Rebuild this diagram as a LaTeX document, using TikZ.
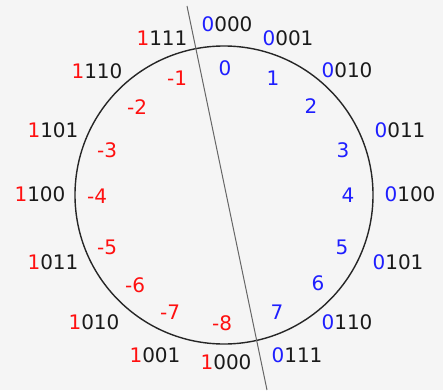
\documentclass[tikz,border=0pt]{standalone}
\usepackage{fontspec}
\setmainfont{DejaVu Sans}
\definecolor{bg}{HTML}{F5F5F5}
\definecolor{rd}{HTML}{FF1010}
\definecolor{bl}{HTML}{1E1EFF}
\definecolor{tx}{HTML}{1A1A1A}
\begin{document}
\begin{tikzpicture}[x=1pt,y=-1pt,
  lab/.style={inner sep=0pt,font=\fontsize{20}{21}\selectfont,text=tx},
  neglab/.style={inner sep=0pt,font=\fontsize{20}{21}\selectfont,text=rd},
  poslab/.style={inner sep=0pt,font=\fontsize{20}{21}\selectfont,text=bl}]
\fill[bg] (0,0) rectangle (443,390);
\useasboundingbox (0,0) rectangle (443,390);
\node[circle,draw=black!85,line width=1.4pt,minimum size=298pt,inner sep=0pt] (c) at (224,195) {};
\coordinate (t) at (187,6);
\coordinate (b) at (267,390);
\draw[black!60,line width=1pt] (t) -- (b);
% outer labels
\node[lab] (o0) at (227,24) {\textcolor{bl}{0}000};
\node[lab] (o1) at (288,38) {\textcolor{bl}{0}001};
\node[lab] (o2) at (347,70) {\textcolor{bl}{0}010};
\node[lab] (o3) at (400,130) {\textcolor{bl}{0}011};
\node[lab] (o4) at (410,194) {\textcolor{bl}{0}100};
\node[lab] (o5) at (398,262) {\textcolor{bl}{0}101};
\node[lab] (o6) at (347,322) {\textcolor{bl}{0}110};
\node[lab] (o7) at (297,355) {\textcolor{bl}{0}111};
\node[lab] (o8) at (226,362) {\textcolor{rd}{1}000};
\node[lab] (o9) at (155,355) {\textcolor{rd}{1}001};
\node[lab] (o10) at (94,322) {\textcolor{rd}{1}010};
\node[lab] (o11) at (53,262) {\textcolor{rd}{1}011};
\node[lab] (o12) at (40,194) {\textcolor{rd}{1}100};
\node[lab] (o13) at (53,130) {\textcolor{rd}{1}101};
\node[lab] (o14) at (97,71) {\textcolor{rd}{1}110};
\node[lab] (o15) at (162,38) {\textcolor{rd}{1}111};
% inner labels
\node[poslab] (i0) at (225,68) {0};
\node[poslab] (i1) at (273,78) {1};
\node[poslab] (i2) at (311,106) {2};
\node[poslab] (i3) at (343,150) {3};
\node[poslab] (i4) at (348,195) {4};
\node[poslab] (i5) at (342,247) {5};
\node[poslab] (i6) at (318,283) {6};
\node[poslab] (i7) at (277,312) {7};
\node[neglab] (n8) at (222,323) {-8};
\node[neglab] (n7) at (170,312) {-7};
\node[neglab] (n6) at (135,285) {-6};
\node[neglab] (n5) at (107,247) {-5};
\node[neglab] (n4) at (97,196) {-4};
\node[neglab] (n3) at (107,150) {-3};
\node[neglab] (n2) at (137,107) {-2};
\node[neglab] (n1) at (177,78) {-1};
\end{tikzpicture}
\end{document}
